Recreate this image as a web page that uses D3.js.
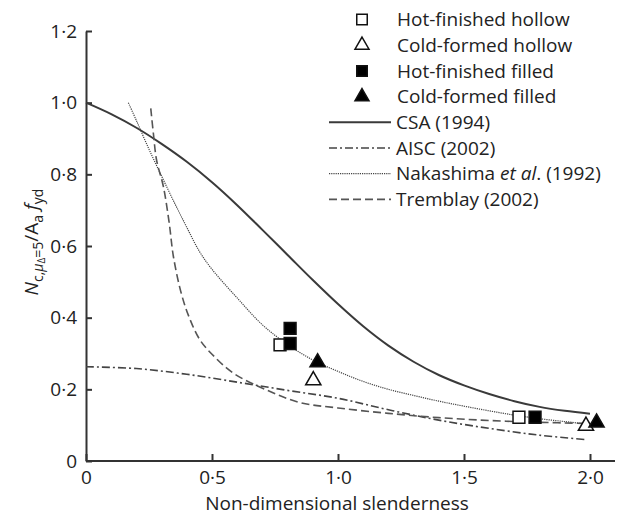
<!DOCTYPE html>
<html>
<head>
<meta charset="utf-8">
<script src="https://cdn.jsdelivr.net/npm/d3@7"></script>
<style>
  body { margin: 0; background: #fff; }
  text { font-family: "Open Sans", "Noto Sans", sans-serif; fill: #222; }
</style>
</head>
<body>
<div id="chart"></div>
<script>
// curves: [slenderness, normalised strength]
const csa = [[0,1.0],[0.1,0.968],[0.2,0.93],[0.3,0.885],[0.4,0.835],[0.5,0.778],[0.6,0.714],[0.7,0.645],[0.8,0.575],[0.9,0.505],[1.0,0.438],[1.1,0.376],[1.2,0.322],[1.3,0.277],[1.4,0.24],[1.5,0.211],[1.6,0.187],[1.7,0.167],[1.8,0.151],[1.9,0.14],[2.0,0.132]];
const aisc = [[0,0.263],[0.2,0.258],[0.4,0.242],[0.6,0.22],[0.8,0.197],[1.0,0.175],[1.2,0.143],[1.4,0.114],[1.6,0.091],[1.8,0.072],[1.98,0.06]];
const nakashima = [[0.168,1.0],[0.2,0.95],[0.25,0.87],[0.3,0.795],[0.35,0.722],[0.4,0.652],[0.45,0.585],[0.5,0.535],[0.6,0.455],[0.7,0.38],[0.8,0.325],[0.9,0.282],[1.0,0.25],[1.1,0.222],[1.2,0.2],[1.3,0.183],[1.4,0.167],[1.5,0.153],[1.6,0.14],[1.7,0.128],[1.8,0.118],[1.9,0.11],[1.98,0.104]];
const tremblay = [[0.257,0.984],[0.268,0.91],[0.28,0.84],[0.307,0.766],[0.33,0.665],[0.347,0.57],[0.378,0.468],[0.41,0.4],[0.452,0.338],[0.5,0.298],[0.585,0.245],[0.717,0.198],[0.849,0.163],[1.0,0.148],[1.2,0.133],[1.4,0.121],[1.6,0.113],[1.8,0.108],[1.98,0.105]];

// test points
const hotHollow = [[0.77,0.324],[1.718,0.122]];
const coldHollow = [[0.902,0.225],[1.984,0.098]];
const hotFilled = [[0.81,0.37],[0.81,0.328],[1.782,0.122]];
const coldFilled = [[0.919,0.275],[2.026,0.107]];

const xTicks = [0, 0.5, 1.0, 1.5, 2.0];
const yTicks = [0, 0.2, 0.4, 0.6, 0.8, 1.0, 1.2];

const fmt = d => d === 0 ? '0' : d.toFixed(1).replace('.', '\u00B7');

const width = 619, height = 519;
const ink = '#333';

const svg = d3.select('#chart').append('svg')
  .attr('width', width).attr('height', height);

const x = d3.scaleLinear().domain([0, 2.0]).range([86, 590]);
const y = d3.scaleLinear().domain([0, 1.2]).range([461, 31]);

// axes
const xAxis = svg.append('g')
  .attr('transform', `translate(0,${y(0)})`)
  .call(d3.axisBottom(x).tickValues(xTicks).tickFormat(fmt).tickSizeInner(-7).tickSizeOuter(0).tickPadding(10));
xAxis.select('.domain').attr('d', `M${x(0)},0H${width - 4}`);

const yAxis = svg.append('g')
  .attr('transform', `translate(${x(0)},0)`)
  .call(d3.axisLeft(y).tickValues(yTicks).tickFormat(fmt).tickSizeInner(-6).tickSizeOuter(0).tickPadding(9));

svg.selectAll('.domain').attr('stroke', ink).attr('stroke-width', 2);
svg.selectAll('.tick line').attr('stroke', ink).attr('stroke-width', 2);
svg.selectAll('.tick text').style('font-size', '19px').style('font-family', '"Open Sans", sans-serif').attr('fill', '#222');
xAxis.selectAll('.tick text').attr('dy', '0.71em');

// axis titles
svg.append('text')
  .attr('x', 337).attr('y', 510)
  .attr('text-anchor', 'middle')
  .style('font-size', '19px')
  .text('Non-dimensional slenderness');

const yl = svg.append('text')
  .attr('transform', 'translate(38,242) rotate(-90)')
  .attr('text-anchor', 'middle')
  .style('font-size', '19px');
yl.append('tspan').style('font-style', 'italic').text('N');
yl.append('tspan').attr('dy', 5).style('font-size', '14px').text('c,');
yl.append('tspan').style('font-size', '14px').style('font-style', 'italic').text('μ');
yl.append('tspan').style('font-size', '10px').attr('dy', 2).text('Δ');
yl.append('tspan').style('font-size', '14px').attr('dy', -2).text('=5');
yl.append('tspan').attr('dy', -5).text('/A');
yl.append('tspan').attr('dy', 5).style('font-size', '14px').text('a');
yl.append('tspan').attr('dy', -5).style('font-style', 'italic').text(' f');
yl.append('tspan').attr('dy', 5).style('font-size', '14px').text('yd');

// curves
const line = d3.line().x(d => x(d[0])).y(d => y(d[1])).curve(d3.curveCatmullRom.alpha(0.5));
const curves = [
  { name: 'CSA (1994)', data: csa, dash: null, w: 2, c: '#3a3a3a' },
  { name: 'AISC (2002)', data: aisc, dash: '8,3,2,3', w: 1.6, c: '#444' },
  { name: 'Nakashima et al. (1992)', data: nakashima, dash: '1.2,1', w: 1.2, c: '#444' },
  { name: 'Tremblay (2002)', data: tremblay, dash: '8,4', w: 1.6, c: '#555' }
];
curves.forEach(cv => {
  svg.append('path').datum(cv.data)
    .attr('fill', 'none')
    .attr('stroke', cv.c)
    .attr('stroke-width', cv.w)
    .attr('stroke-dasharray', cv.dash)
    .attr('d', line);
});

// markers
const sq = d3.symbol().type(d3.symbolSquare).size(140);
const tri = d3.symbol().type(d3.symbolTriangle).size(100);
const series = [
  { name: 'Hot-finished hollow', data: hotHollow, sym: sq, fill: '#fff' },
  { name: 'Cold-formed hollow', data: coldHollow, sym: tri, fill: '#fff' },
  { name: 'Hot-finished filled', data: hotFilled, sym: sq, fill: '#000' },
  { name: 'Cold-formed filled', data: coldFilled, sym: tri, fill: '#000' }
];
series.forEach(s => {
  svg.append('g').selectAll('path').data(s.data).join('path')
    .attr('transform', d => `translate(${x(d[0])},${y(d[1])})`)
    .attr('d', s.sym)
    .attr('fill', s.fill)
    .attr('stroke', '#111')
    .attr('stroke-width', 1.5);
});

// legend
const lg = svg.append('g');
const rowY = i => 19.5 + i * 25.7;
const legSq = d3.symbol().type(d3.symbolSquare).size(110);
const legTri = d3.symbol().type(d3.symbolTriangle).size(85);
series.forEach((s, i) => {
  lg.append('path')
    .attr('transform', `translate(362,${rowY(i)})`)
    .attr('d', s.sym === sq ? legSq : legTri)
    .attr('fill', s.fill).attr('stroke', '#111').attr('stroke-width', 1.5);
  lg.append('text').attr('x', 397).attr('y', rowY(i)).attr('dy', '0.35em')
    .style('font-size', '19px').text(s.name);
});
curves.forEach((cv, j) => {
  const i = j + 4;
  lg.append('line')
    .attr('x1', 329).attr('x2', 391).attr('y1', rowY(i)).attr('y2', rowY(i))
    .attr('stroke', cv.c).attr('stroke-width', cv.w).attr('stroke-dasharray', cv.dash);
  const t = lg.append('text').attr('x', 396).attr('y', rowY(i)).attr('dy', '0.35em').style('font-size', '19px');
  if (cv.name.startsWith('Nakashima')) {
    t.append('tspan').text('Nakashima ');
    t.append('tspan').style('font-style', 'italic').text('et al');
    t.append('tspan').text('. (1992)');
  } else {
    t.text(cv.name);
  }
});
</script>
</body>
</html>
